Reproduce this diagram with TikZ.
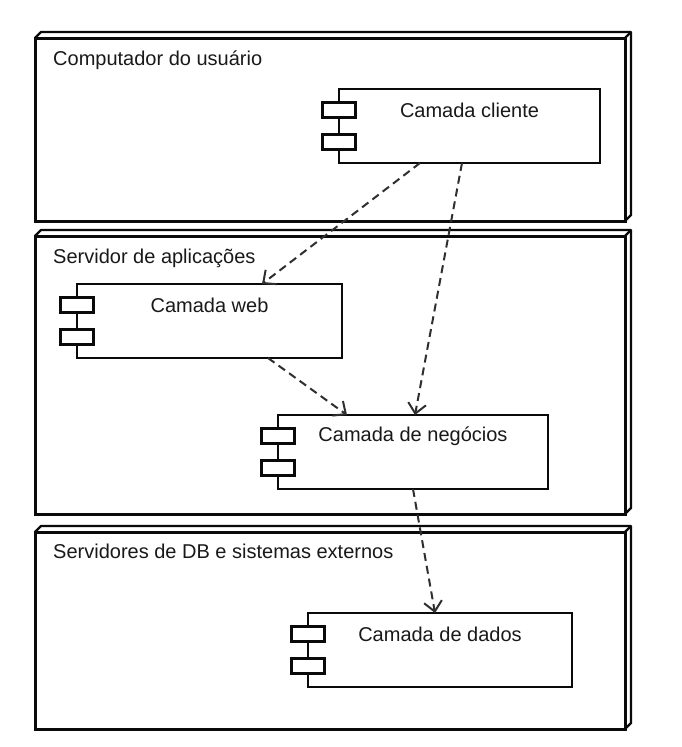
\documentclass[tikz,border=0pt]{standalone}
\usepackage{fontspec}
\setmainfont{Liberation Sans}
\usepackage{tikz}
\usetikzlibrary{arrows.meta, calc, positioning}
\usepackage{xcolor}
\definecolor{umlline}{RGB}{10, 10, 10}
\definecolor{umltext}{RGB}{25, 25, 25}

\begin{document}
\begin{tikzpicture}[x=1pt, y=-1pt,
	nodebox/.style={draw=umlline, fill=white, line width=3pt, outer sep=0pt,
		minimum width=590pt},
	nodeedge/.style={draw=umlline, line width=2.4pt, line join=round},
	nodetitle/.style={anchor=base west, text=umltext, inner sep=0pt,
		font=\fontsize{20}{23}\selectfont},
	comp/.style={draw=umlline, fill=white, line width=2.8pt, outer sep=0pt,
		minimum height=74pt},
	comptxt/.style={anchor=center, yshift=-21pt, text=umltext,
		font=\fontsize{20}{23}\selectfont},
	icon/.style={draw=umlline, fill=white, line width=2.6pt,
		minimum width=33pt, minimum height=15pt, inner sep=0pt},
	dep/.style={-{Straight Barb[length=10pt, width=18pt, line width=2pt]},
		line width=2pt, dash pattern=on 8pt off 5pt, draw=umlline!85}
	]
	\useasboundingbox (0,0) rectangle (682,747);
	% deployment nodes
	\node[nodebox, minimum height=183pt] (pc)  at (330,129.5) {};
	\node[nodebox, minimum height=278pt] (app) at (330,375)   {};
	\node[nodebox, minimum height=197pt] (db)  at (330,630.5) {};
	\foreach \n in {pc, app, db}{
		\draw[nodeedge] (\n.north west) -- ++(6,-6)
			-- ([shift={(6,-6)}]\n.north east) -- ([shift={(6,-6)}]\n.south east)
			-- (\n.south east);
		\draw[nodeedge] (\n.north east) -- ++(6,-6);
	}
	\node[nodetitle] (pclbl)  at ([shift={(18,27)}]pc.north west)  {Computador do usuário};
	\node[nodetitle] (applbl) at ([shift={(18,27)}]app.north west) {Servidor de aplicações};
	\node[nodetitle] (dblbl)  at ([shift={(18,26)}]db.north west)  {Servidores de DB e sistemas externos};
	% components
	\node[comp, minimum width=261pt, label={[comptxt]north:Camada cliente}]     (cli) at (469.5,126) {};
	\node[comp, minimum width=265pt, label={[comptxt]north:Camada web}]         (web) at (209.5,321) {};
	\node[comp, minimum width=270pt, label={[comptxt]north:Camada de negócios}] (neg) at (413,452)   {};
	\node[comp, minimum width=264pt, label={[comptxt]north:Camada de dados}]    (dad) at (440,650)   {};
	\node[icon] (cli1) at ([yshift=-21pt]cli.north west) {};
	\node[icon] (cli2) at ([yshift=-53pt]cli.north west) {};
	\node[icon] (web1) at ([yshift=-21pt]web.north west) {};
	\node[icon] (web2) at ([yshift=-53pt]web.north west) {};
	\node[icon] (neg1) at ([yshift=-21pt]neg.north west) {};
	\node[icon] (neg2) at ([yshift=-53pt]neg.north west) {};
	\node[icon] (dad1) at ([yshift=-21pt]dad.north west) {};
	\node[icon] (dad2) at ([yshift=-53pt]dad.north west) {};
	% dependencies
	\draw[dep] ([xshift=-49.5pt]cli.south) -- ([xshift=52.5pt]web.north);
	\draw[dep] ([xshift=-7.5pt]cli.south)  -- ([xshift=2pt]neg.north);
	\draw[dep] ([xshift=58.5pt]web.south)  -- ([xshift=-66pt]neg.north);
	\draw[dep] (neg.south)                 -- ([xshift=-5pt]dad.north);
\end{tikzpicture}
\end{document}
